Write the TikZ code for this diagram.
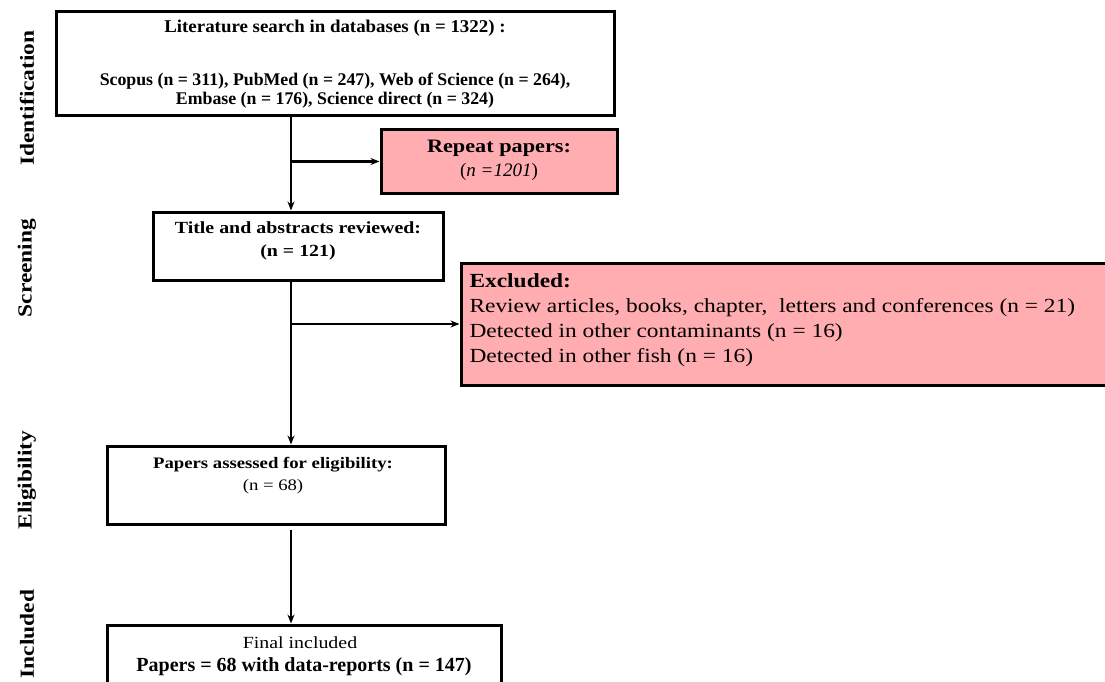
\documentclass[tikz,border=0pt]{standalone}
\usepackage{fontspec}
\setmainfont{Liberation Serif}
\newfontfamily\wideserif[FakeStretch=1.17]{Liberation Serif}
\newfontfamily\midserif[FakeStretch=1.05]{Liberation Serif}
\usetikzlibrary{arrows.meta,calc}
\definecolor{pinkfill}{RGB}{255,173,176}
\tikzset{
  box/.style={draw=black, line width=3pt, fill=white, inner sep=0pt, align=center},
  pinkbox/.style={box, fill=pinkfill},
  conn/.style={line width=2.3pt, -{Stealth[length=9pt,width=7pt]}},
  phase/.style={rotate=90, font=\wideserif\fontsize{20}{22}\selectfont\bfseries, anchor=center},
}
\begin{document}
\begin{tikzpicture}[x=1pt,y=1pt]
\clip (0,0) rectangle (1105,-682);
\fill[white] (0,0) rectangle (1105,-682);

% phase labels
\node[phase] (lid) at (27,-98) {Identification};
\node[phase] (lsc) at (27,-268) {Screening};
\node[phase] (lel) at (27,-480) {Eligibility};
\node[phase] (lin) at (27,-634) {Included};

% boxes
\node[box, minimum width=558, minimum height=104] (b1) at (335,-64) {};
\node[font=\midserif\fontsize{18}{20}\selectfont\bfseries] (t1a) at (335,-28) {Literature search in databases (n = 1322) :};
\node[font=\fontsize{17.8}{19}\selectfont\bfseries, align=center] (t1b) at (335,-91) {Scopus (n = 311), PubMed (n = 247), Web of Science (n = 264),\\Embase (n = 176), Science direct (n = 324)};

\node[pinkbox, minimum width=236, minimum height=63] (rp) at (499,-161.5) {};
\node[font=\fontsize{19}{24}\selectfont, align=center] (trp) at (499,-160) {{\wideserif\bfseries Repeat papers:}\\(\textit{n =1201})};

\node[box, minimum width=290, minimum height=68] (b2) at (298,-246) {};
\node[font=\wideserif\fontsize{17}{23}\selectfont\bfseries, align=center] (tb2) at (298,-241) {Title and abstracts reviewed:\\(n = 121)};

\node[pinkbox, minimum width=660, minimum height=122] (ex) at (791,-324) {};
\node[font=\wideserif\fontsize{20}{25}\selectfont, align=left, anchor=north west] (tex) at (466,-270) {\textbf{Excluded:}\\Review articles, books, chapter, \ letters and conferences (n = 21)\\Detected in other contaminants (n = 16)\\Detected in other fish (n = 16)};

\node[box, minimum width=338, minimum height=78] (b3) at (276,-485) {};
\node[font=\wideserif\fontsize{16}{22}\selectfont, align=center] (tb3) at (273,-476) {\textbf{Papers assessed for eligibility:}\\(n = 68)};

\node[box, minimum width=394, minimum height=100] (b4) at (304,-675) {};
\node[font=\wideserif\fontsize{17}{20}\selectfont] (tb4a) at (300,-643) {Final included};
\node[font=\fontsize{20}{24}\selectfont\bfseries] (tb4b) at (304,-667) {Papers = 68 with data-reports (n = 147)};

% connectors
\coordinate (cx) at (291,0);
\coordinate (g3) at (291,-530);
\draw[conn] (b1.south -| cx) -- (b2.north -| cx);
\draw[conn] (cx |- rp.west) -- (rp.west);
\draw[conn] (b2.south -| cx) -- (b3.north -| cx);
\draw[conn] (cx |- ex.west) -- (ex.west);
\draw[conn] (g3) -- (b4.north -| cx);
\end{tikzpicture}
\end{document}
